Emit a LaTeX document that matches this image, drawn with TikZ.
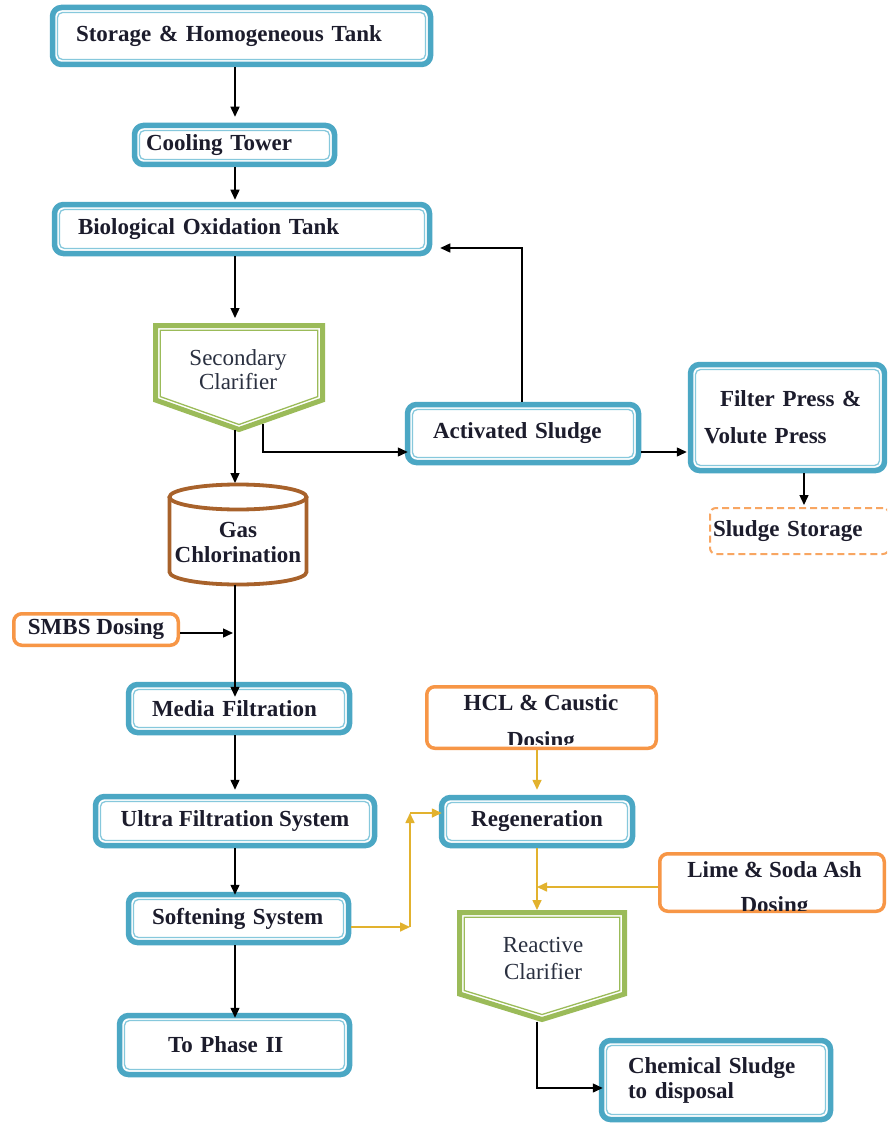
\documentclass[tikz,border=0pt]{standalone}
\usepackage{fontspec}
\setmainfont{Liberation Serif}
\usetikzlibrary{arrows.meta}
\definecolor{aqua}{HTML}{4BA7C4}
\definecolor{aqualight}{HTML}{86C8DC}
\definecolor{olive}{HTML}{9BBB59}
\definecolor{tangerine}{HTML}{F79646}
\definecolor{rust}{HTML}{A8622B}
\definecolor{gold}{HTML}{E2B22E}
\definecolor{ink}{HTML}{1C1C2C}
\definecolor{slate}{HTML}{2A3040}
\tikzset{
  boxtext/.style={font=\fontsize{23}{25}\selectfont\bfseries, text=ink},
  aquabox/.style={draw=aqua, line width=5.5pt, rounded corners=9pt, fill=white,
    inner ysep=2pt, boxtext,
    path picture={\draw[aqualight, line width=1.3pt, rounded corners=5pt]
      ([shift={(5pt,5pt)}]path picture bounding box.south west) rectangle
      ([shift={(-5pt,-5pt)}]path picture bounding box.north east);}},
  dosebox/.style={draw=tangerine, line width=3.5pt, rounded corners=8pt, fill=white,
    inner sep=0pt, boxtext},
  storebox/.style={draw=tangerine!85, line width=2pt, dash pattern=on 7pt off 4pt,
    rounded corners=6pt, fill=white, inner sep=0pt, boxtext},
  shapeframe/.style={inner sep=0pt, outer sep=0pt},
  greenline/.style={draw=olive, line width=5pt, line join=miter, fill=white},
  greenthin/.style={draw=olive, line width=1.3pt},
  rustline/.style={draw=rust, line width=3.8pt},
  clartext/.style={font=\fontsize{23}{24.5}\selectfont, text=slate, align=center, inner sep=0pt},
  flow/.style={draw=black, line width=1.4pt, -{Triangle[length=10pt,width=9pt]}},
  feed/.style={gold, line width=1.6pt, -{Triangle[length=10pt,width=9pt]}},
}
\begin{document}
\begin{tikzpicture}[x=1pt, y=-1pt]
\clip (0,0) rectangle (887,1126);
\fill[white] (0,0) rectangle (887,1126);

% main treatment line
\node[aquabox, minimum height=57pt, text width=331pt, inner xsep=23.5pt, align=left] (st) at (241.5,36) {Storage \& Homogeneous Tank};
\node[aquabox, minimum height=39pt, text width=177pt, inner xsep=11.5pt, align=left] (ct) at (234.5,145) {Cooling Tower};
\node[aquabox, minimum height=49pt, text width=328pt, inner xsep=23.5pt, align=left] (bio) at (242,229) {Biological Oxidation Tank};

% secondary clarifier (pentagon with inner outline)
\node[shapeframe, minimum width=167pt, minimum height=104pt] (sc) at (239,377.5) {};
\draw[greenline] (sc.north west) -- (sc.north east) -- ([yshift=29.5pt]sc.south east)
  -- (sc.south) -- ([yshift=29.5pt]sc.south west) -- cycle;
\draw[greenthin] ([shift={(4.75pt,-4.75pt)}]sc.north west) -- ([shift={(-4.75pt,-4.75pt)}]sc.north east)
  -- ([shift={(-4.75pt,32.9pt)}]sc.south east) -- ([yshift=5pt]sc.south)
  -- ([shift={(4.75pt,32.9pt)}]sc.south west) -- cycle;
\node[clartext] (sctext) at (238,369.5) {Secondary\\Clarifier};

% gas chlorination cylinder
\node[shapeframe, minimum width=137pt, minimum height=100pt] (gc) at (238,534.5) {};
\draw[rustline, fill=white] ([yshift=-12.5pt]gc.north west) -- ([yshift=12.5pt]gc.south west)
  arc[start angle=180, end angle=360, x radius=68.5pt, y radius=12.5pt]
  -- ([yshift=-12.5pt]gc.north east);
\draw[rustline] ([yshift=-12.5pt]gc.north) ellipse [x radius=68.5pt, y radius=12.5pt];
\node[boxtext, align=center, inner sep=0pt] (gctext) at (238,542) {Gas\\Chlorination};

\node[dosebox, minimum width=164.5pt, minimum height=31.5pt] (smbs) at (96,629.5) {SMBS Dosing};
\node[aquabox, minimum height=48pt, text width=174pt, inner xsep=23.5pt, align=left] (mf) at (239,708.5) {Media Filtration};
\node[aquabox, minimum height=49pt, minimum width=279pt] (uf) at (235,821) {Ultra Filtration System};
\node[aquabox, minimum height=48pt, text width=173pt, inner xsep=23.5pt, align=left] (ss) at (238.5,918.5) {Softening System};
\node[aquabox, minimum height=59pt, text width=133pt, inner xsep=48.5pt, align=left] (ph) at (234.5,1045) {To Phase II};

% sludge line
\node[aquabox, minimum height=58pt, text width=180pt, inner xsep=25.5pt, align=left] (as) at (523,433.5) {Activated Sludge};
\node[aquabox, font=\fontsize{23}{37}\selectfont\bfseries, minimum height=106pt, text width=167pt, inner xsep=13.5pt, align=left] (fp) at (787.5,417.5) {\hspace*{16pt}Filter Press \&\\Volute Press};
\node[storebox, minimum width=179pt, minimum height=46pt, text width=173pt, inner xsep=3pt, align=left] (sludge) at (799.5,531) {Sludge Storage};

% regeneration line
\node[dosebox, minimum width=229.5pt, minimum height=61.5pt] (hcl) at (541.5,717.5) {};
\begin{scope}
  \clip ([shift={(2pt,-2pt)}]hcl.north west) rectangle ([shift={(-2pt,6pt)}]hcl.south east);
  \node[boxtext, font=\fontsize{23}{37}\selectfont\bfseries, align=center, inner sep=0pt] (hcltext) at (541,723.5) {HCL \& Caustic\\Dosing};
\end{scope}
\node[aquabox, minimum height=48pt, minimum width=191pt] (rg) at (537,821.5) {Regeneration};
\node[dosebox, minimum width=224.5pt, minimum height=57.5pt] (lime) at (772,882.5) {};
\begin{scope}
  \clip ([shift={(2pt,-2pt)}]lime.north west) rectangle ([shift={(-2pt,3pt)}]lime.south east);
  \node[boxtext, font=\fontsize{23}{35}\selectfont\bfseries, align=center, inner sep=0pt] (limetext) at (774.5,889.5) {Lime \& Soda Ash\\Dosing};
\end{scope}

% reactive clarifier
\node[shapeframe, minimum width=165pt, minimum height=107pt] (rc) at (542,966) {};
\draw[greenline] (rc.north west) -- (rc.north east) -- ([yshift=25.5pt]rc.south east)
  -- (rc.south) -- ([yshift=25.5pt]rc.south west) -- cycle;
\draw[greenthin] ([shift={(4.75pt,-4.75pt)}]rc.north west) -- ([shift={(-4.75pt,-4.75pt)}]rc.north east)
  -- ([shift={(-4.75pt,29pt)}]rc.south east) -- ([yshift=5pt]rc.south)
  -- ([shift={(4.75pt,29pt)}]rc.south west) -- cycle;
\node[clartext, font=\fontsize{23}{27}\selectfont] (rctext) at (543,958.5) {Reactive\\Clarifier};

\node[aquabox, minimum height=79pt, text width=176pt, inner xsep=26.5pt, align=left] (cs) at (716,1080) {Chemical Sludge\\to disposal};

% routing points
\coordinate (spine) at (235,0);
\coordinate (smbsy) at (0,633);
\coordinate (scout) at (263,424);
\coordinate (sl) at (0,452);
\coordinate (ret) at (522,248);
\coordinate (fpx) at (804,0);
\coordinate (ya) at (410,927);
\coordinate (yb) at (410,813);
\coordinate (cx) at (537,0);
\coordinate (lj) at (537,887);
\coordinate (rcy) at (0,1088);

% black connectors
\draw[flow, shorten >=6pt] (spine |- st.south) -- (spine |- ct.north);
\draw[flow, shorten >=2pt] (spine |- ct.south) -- (spine |- bio.north);
\draw[flow, shorten >=7.5pt] (spine |- bio.south) -- (spine |- sc.north);
\draw[flow, shorten >=1.5pt] (spine |- sc.south) -- (spine |- gc.north);
\draw[flow, shorten >=-15pt] (spine |- gc.south) -- (spine |- mf.north);
\draw[flow, shorten >=2pt] (smbs.east |- smbsy) -- (spine |- smbsy);
\draw[flow, shorten >=4pt] (spine |- mf.south) -- (spine |- uf.north);
\draw[flow, shorten >=-3pt] (spine |- uf.south) -- (spine |- ss.north);
\draw[flow, shorten >=-5pt] (spine |- ss.south) -- (spine |- ph.north);
\draw[flow, shorten >=-3pt] (scout) |- (as.west |- sl);
\draw[flow, shorten >=8pt] (as.north -| ret) -- (ret) -- (bio.east |- ret);
\draw[flow, shorten >=1pt] (as.east |- sl) -- (fp.west |- sl);
\draw[flow, shorten >=2pt] (fp.south -| fpx) -- (sludge.north -| fpx);
\draw[flow, shorten <=2pt, shorten >=-4pt] (rc.south -| cx) |- (cs.west |- rcy);

% chemical feed connectors
\draw[feed] (ss.east |- ya) -- (ya);
\draw[feed] (ya) -- (yb);
\draw[feed, shorten >=-3pt] (yb) -- (rg.west |- yb);
\draw[feed, shorten >=5pt] (hcl.south -| cx) -- (rg.north -| cx);
\draw[feed, shorten >=2.5pt] (rg.south -| cx) -- (rc.north -| cx);
\draw[feed] (lime.west |- lj) -- (lj);
\end{tikzpicture}
\end{document}
